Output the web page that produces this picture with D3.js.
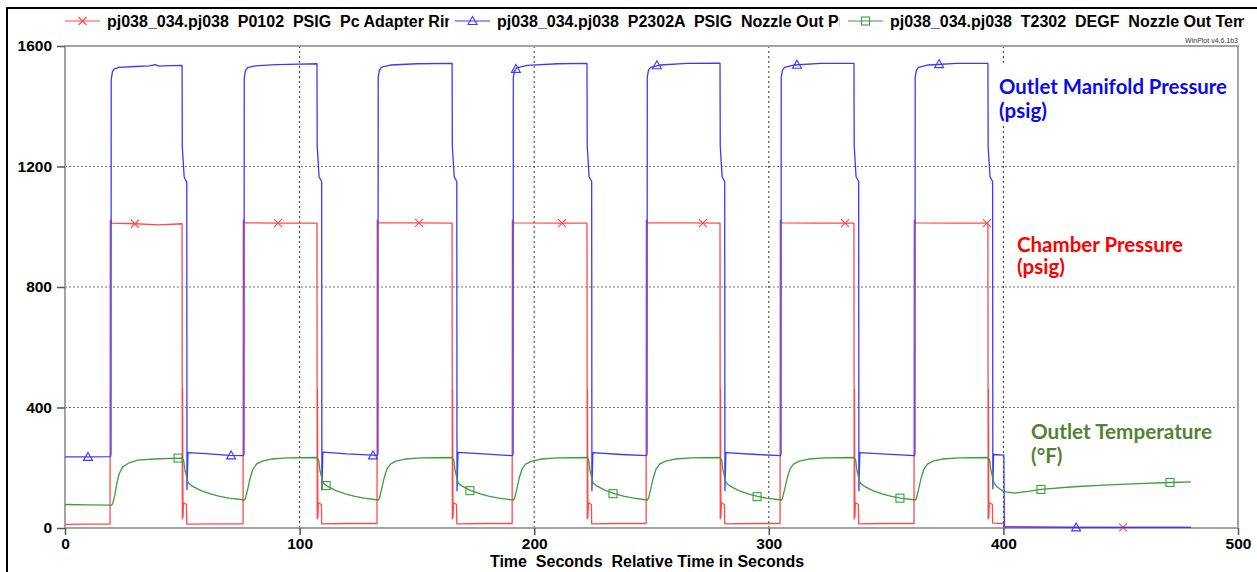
<!DOCTYPE html>
<html>
<head>
<meta charset="utf-8">
<script src="https://cdn.jsdelivr.net/npm/d3@7"></script>
<style>
body { margin: 0; background: #fff; }
svg { display: block; }
.tick text { font-family: "Liberation Sans", Arial, sans-serif; font-weight: bold; font-size: 15.5px; fill: #000; }
</style>
</head>
<body>
<div id="chart"></div>
<script>
// tick values
const timeTicks = [0, 100, 200, 300, 400, 500];
const pressureTicks = [0, 400, 800, 1200, 1600];

const legendLabels = [
  "pj038_034.pj038  P0102  PSIG  Pc Adapter Ring",
  "pj038_034.pj038  P2302A  PSIG  Nozzle Out Press",
  "pj038_034.pj038  T2302  DEGF  Nozzle Out Temp"
];
const noteLines = [
  ["Outlet Manifold Pressure", "(psig)"],
  ["Chamber Pressure", "(psig)"],
  ["Outlet Temperature", "(°F)"]
];

// P0102 chamber pressure, [seconds, psig]
const chamberPts = [
  [0,12],[10,13],[19.2,13],[19.3,1022],[19.9,1012],[30,1010],[40,1006],[49.9,1010],
  [50.0,30],[50.1,462],[50.3,35],[50.5,84],[51.8,78],[51.9,13],[65,14],[75.9,14],
  [76.0,1022],[76.6,1013],[90,1012],[107.4,1012],
  [107.5,30],[107.6,460],[107.8,35],[108.0,84],[109.3,78],[109.4,14],[120,15],[133.0,15],
  [133.1,1022],[133.7,1013],[150,1013],[165.0,1012],
  [165.1,30],[165.2,460],[165.4,35],[165.6,84],[166.9,78],[167.0,14],[180,15],[190.6,15],
  [190.7,1022],[191.3,1013],[210,1012],[222.5,1012],
  [222.6,30],[222.7,460],[222.9,35],[223.1,84],[224.4,78],[224.5,14],[235,15],[247.7,15],
  [247.8,1022],[248.4,1013],[265,1013],[279.2,1012],
  [279.3,30],[279.4,460],[279.6,35],[279.8,84],[281.1,78],[281.2,14],[295,15],[304.8,15],
  [304.9,1022],[305.5,1013],[320,1012],[336.3,1012],
  [336.4,30],[336.5,460],[336.7,35],[336.9,84],[338.2,78],[338.3,14],[350,15],[361.9,15],
  [362.0,1022],[362.6,1013],[380,1012],[393.4,1012],
  [393.5,30],[393.6,460],[393.8,35],[394.0,84],[395.3,78],[395.4,16],[400.1,15],[400.3,3],[440,2],[480,2]
];

// P2302A manifold pressure, [seconds, psig]
const manifoldPts = [
  [0,236],[10,236],[19.4,237],
  [19.6,245],[19.7,1488],[20.2,1514],[21,1524],[23,1529],[30,1532],[36,1534],[38.5,1538],[40,1533],[45,1535],[49.9,1536],
  [50.0,1265],[50.8,1165],[51.9,1148],[52.0,128],[52.4,250],[60,247],[70,241],[76.1,240],
  [76.3,246],[76.4,1492],[76.9,1518],[77.8,1528],[81,1534],[90,1538],[100,1540],[107.4,1541],
  [107.5,1268],[108.3,1166],[109.4,1150],[109.5,126],[109.9,252],[120,246],[133.2,241],
  [133.4,246],[133.5,1496],[134,1520],[135,1530],[139,1537],[150,1541],[165.0,1542],
  [165.1,1268],[165.9,1166],[167.0,1150],[167.1,124],[167.5,251],[180,245],[190.8,240],
  [191.0,246],[191.1,1495],[191.6,1517],[192.5,1527],[197,1536],[210,1541],[222.5,1542],
  [222.6,1268],[223.4,1166],[224.5,1150],[224.6,124],[225.0,250],[237,244],[247.9,240],
  [248.1,246],[248.2,1497],[248.7,1519],[249.6,1529],[254,1537],[265,1542],[279.2,1543],
  [279.3,1268],[280.1,1166],[281.2,1150],[281.3,124],[281.7,250],[295,244],[305.0,240],
  [305.2,246],[305.3,1497],[305.8,1519],[306.7,1529],[311,1537],[322,1542],[336.3,1542],
  [336.4,1268],[337.2,1166],[338.3,1150],[338.4,124],[338.8,250],[350,245],[362.1,240],
  [362.3,246],[362.4,1497],[362.9,1519],[363.8,1529],[368,1537],[380,1542],[393.4,1542],
  [393.5,1265],[394.3,1166],[395.4,1150],[395.5,130],[395.8,244],[400.2,242],[400.4,4],[430,2],[480,2]
];

// T2302 outlet temperature, [seconds, degF]
const tempPts = [
  [0,78],[10,77],[19.8,76],[20.3,80],[21.2,108],[22.1,148],[23.1,180],[24.6,203],[27,215],[31,225],[38,229],[45,231],[49.9,232],
  [50.6,224],[51.2,190],[52.5,150],[54,140],[58,124],[62,113],[66,105],[70,99],[76.4,93],
  [76.9,98],[77.9,130],[78.9,165],[80.1,195],[81.6,212],[84,222],[88,229],[95,233],[107.4,234],
  [108.1,226],[108.7,190],[110,150],[111.5,140],[115.5,124],[119.5,113],[123.5,105],[127.5,99],[133.5,93],
  [134,98],[135,130],[136,165],[137.2,195],[138.7,212],[141,222],[145,229],[152,233],[165.0,234],
  [165.7,226],[166.3,190],[167.6,150],[169.1,140],[173,124],[177,113],[181,105],[185,99],[191.1,93],
  [191.6,98],[192.6,130],[193.6,165],[194.8,195],[196.3,212],[199,222],[203,229],[210,233],[222.5,234],
  [223.2,226],[223.8,190],[225.1,150],[226.6,140],[230.5,124],[234.5,113],[238.5,105],[242.5,99],[248.2,93],
  [248.7,98],[249.7,130],[250.7,165],[251.9,195],[253.4,212],[256,222],[260,229],[267,233],[279.2,234],
  [279.9,226],[280.5,190],[281.8,150],[283.3,140],[287.2,124],[291.2,113],[295.2,105],[299.2,99],[305.3,93],
  [305.8,98],[306.8,130],[307.8,165],[309,195],[310.5,212],[313,222],[317,229],[324,233],[336.3,234],
  [337,226],[337.6,190],[338.9,150],[340.4,140],[344.3,124],[348.3,113],[352.3,105],[356.3,99],[362.4,93],
  [362.9,98],[363.9,130],[364.9,165],[366.1,195],[367.6,212],[370,222],[374,229],[381,233],[393.4,234],
  [394.1,226],[394.7,190],[396,150],[397.5,135],[400,121],[405,116],[410,121],[416,128],[430,137],[445,143],[460,148],[471,151],[480,153]
];

// symbol positions on each trace
const chamberMarks = [[29.8,1010],[90.8,1012],[150.9,1013],[211.9,1012],[271.9,1012],[332.5,1012],[393.0,1012],[451,2]];
const manifoldMarks = [[9.8,236],[70.8,241],[131.3,241],[192.2,1524],[252.3,1536],[312.0,1538],[372.6,1540],[431,2]];
const tempMarks = [[48.2,232],[111.3,141],[172.6,124],[233.6,114],[295.0,104],[355.9,99],[416,128],[471,151]];

let width = 1257,
    height = 572,
    margin = ({ top: 46, right: 19, bottom: 44, left: 65 });

const red = "#ff4a4a", blue = "#3a3aff", green = "#3d9e3d";

const svg = d3.select("#chart")
  .append("svg")
  .attr("width", width)
  .attr("height", height)
  .style("font-family", "'Liberation Sans', Arial, sans-serif");

let xScale = d3.scaleLinear()
  .domain([0, 500])
  .range([margin.left, width - margin.right]);

let yScale = d3.scaleLinear()
  .domain([0, 1600])
  .range([height - margin.bottom, margin.top]);

// outer black frame of the screenshot
svg.append("rect")
  .attr("x", 7).attr("y", 8)
  .attr("width", width + 20).attr("height", height + 20)
  .attr("fill", "none").attr("stroke", "#000").attr("stroke-width", 2);

// grid
svg.append("g").selectAll("line")
  .data(pressureTicks.slice(1, -1))
  .join("line")
    .attr("x1", margin.left).attr("x2", width - margin.right)
    .attr("y1", d => yScale(d)).attr("y2", d => yScale(d))
    .attr("stroke", "#777").attr("stroke-dasharray", "2,2");

svg.append("g").selectAll("line")
  .data(timeTicks.slice(1, -1))
  .join("line")
    .attr("x1", d => xScale(d)).attr("x2", d => xScale(d))
    .attr("y1", margin.top).attr("y2", height - margin.bottom)
    .attr("stroke", "#333").attr("stroke-dasharray", "2,3");

// plot frame
svg.append("rect")
  .attr("x", margin.left).attr("y", margin.top)
  .attr("width", width - margin.left - margin.right)
  .attr("height", height - margin.top - margin.bottom)
  .attr("fill", "none").attr("stroke", "#a3a3a3").attr("stroke-width", 2);

const yAxis = svg.append("g")
  .attr("transform", `translate(${margin.left},0)`)
  .call(d3.axisLeft(yScale).tickValues(pressureTicks).tickFormat(d3.format("d"))
    .tickSize(8).tickSizeOuter(0).tickPadding(5));
yAxis.select(".domain").remove();
yAxis.selectAll(".tick line").attr("stroke", "#555").attr("stroke-width", 1.5);

const xAxis = svg.append("g")
  .attr("transform", `translate(0,${height - margin.bottom})`)
  .call(d3.axisBottom(xScale).tickValues(timeTicks).tickFormat(d3.format("d"))
    .tickSize(7).tickSizeOuter(0).tickPadding(3));
xAxis.select(".domain").remove();
xAxis.selectAll(".tick line").attr("stroke", "#555").attr("stroke-width", 1.5);

svg.append("text")
  .attr("x", 647).attr("y", 567)
  .attr("text-anchor", "middle")
  .style("white-space", "pre")
  .style("font-weight", "bold").style("font-size", "16px")
  .text("Time  Seconds  Relative Time in Seconds");

svg.append("text")
  .attr("x", width - margin.right).attr("y", 43)
  .attr("text-anchor", "end")
  .style("font-size", "7px").attr("fill", "#333")
  .text("WinPlot v4.6.1b3");

// traces
const line = d3.line()
  .x(d => xScale(d[0]))
  .y(d => yScale(d[1]));

const traces = [
  { pts: chamberPts, marks: chamberMarks, color: red, shape: "x" },
  { pts: manifoldPts, marks: manifoldMarks, color: blue, shape: "tri" },
  { pts: tempPts, marks: tempMarks, color: green, shape: "sq" }
];

function marker(sel, shape, color) {
  if (shape === "x") {
    sel.append("path").attr("d", "M-4,-4L4,4M-4,4L4,-4");
  } else if (shape === "tri") {
    sel.append("path").attr("d", "M0,-4.5L4.5,3.5L-4.5,3.5Z");
  } else {
    sel.append("rect").attr("x", -4).attr("y", -4).attr("width", 8).attr("height", 8);
  }
  sel.selectAll("path,rect").attr("fill", "none").attr("stroke", color).attr("stroke-width", 1.1);
}

const plot = svg.append("g");
traces.forEach(tr => {
  plot.append("path")
    .datum(tr.pts)
    .attr("fill", "none")
    .attr("stroke", tr.color)
    .attr("stroke-width", 1.3)
    .attr("stroke-linejoin", "round")
    .attr("d", line);
  tr.marks.forEach(m => {
    const g = plot.append("g").attr("transform", `translate(${xScale(m[0])},${yScale(m[1])})`);
    marker(g, tr.shape, tr.color);
  });
});

// legend row
const legendX = [65, 455, 848];
const legendClip = [449, 840, 1244];
traces.forEach((tr, i) => {
  const g = svg.append("g");
  g.append("line")
    .attr("x1", legendX[i]).attr("x2", legendX[i] + 35)
    .attr("y1", 21).attr("y2", 21)
    .attr("stroke", tr.color).attr("stroke-width", 1.2);
  marker(g.append("g").attr("transform", `translate(${legendX[i] + 17.5},21)`), tr.shape, tr.color);
  svg.append("clipPath").attr("id", "lc" + i)
    .append("rect").attr("x", legendX[i]).attr("y", 0)
    .attr("width", legendClip[i] - legendX[i]).attr("height", 40);
  g.append("text")
    .attr("x", legendX[i] + 42).attr("y", 27)
    .attr("clip-path", `url(#lc${i})`)
    .style("white-space", "pre")
    .style("font-weight", "bold").style("font-size", "16px")
    .text(legendLabels[i]);
});

// annotations
const notePos = [[999, 94, 118, 228, "#0a0aee"], [1017, 252, 274, 166, "#ff0000"], [1031, 439, 463, 181, "#548235"]];
notePos.forEach((p, i) => {
  svg.append("rect")
    .attr("x", p[0] - 4).attr("y", p[1] - 28)
    .attr("width", p[3] + 8).attr("height", p[2] - p[1] + 34)
    .attr("fill", "#fff");
  const t = svg.append("text")
    .attr("fill", p[4])
    .style("font-family", "Lato, 'Open Sans', sans-serif")
    .style("font-weight", "bold").style("font-size", "20.5px");
  t.append("tspan").attr("x", p[0]).attr("y", p[1])
    .attr("textLength", p[3]).attr("lengthAdjust", "spacingAndGlyphs")
    .text(noteLines[i][0]);
  t.append("tspan").attr("x", p[0]).attr("y", p[2]).text(noteLines[i][1]);
});
</script>
</body>
</html>
